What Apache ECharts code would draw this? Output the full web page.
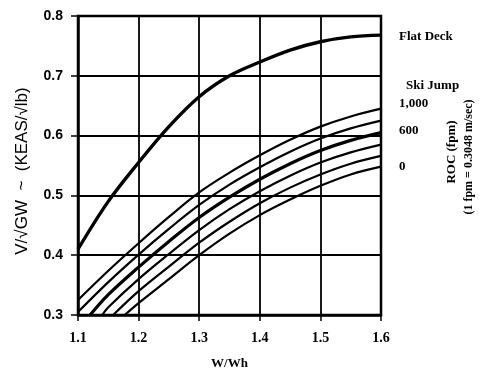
<!DOCTYPE html>
<html>
<head>
<meta charset="utf-8">
<script src="https://cdn.jsdelivr.net/npm/echarts@6/dist/echarts.min.js"></script>
<style>
html,body{margin:0;padding:0;background:#fff;}
#c{width:479px;height:369px;}
</style>
</head>
<body>
<div id="c"></div>
<script>
// Tick values
const xTicks = [1.1, 1.2, 1.3, 1.4, 1.5, 1.6];
const yTicks = [0.3, 0.4, 0.5, 0.6, 0.7, 0.8];

// Flat deck curve [W/Wh, V/sqrt(GW)]
const flatDeck = [[1.1,0.41],[1.15,0.49],[1.2,0.555],[1.25,0.615],[1.3,0.665],[1.35,0.70],[1.4,0.723],[1.45,0.743],[1.5,0.757],[1.55,0.765],[1.6,0.768]];

// Ski jump curves by rate of climb (fpm)
const ski1000 = [[1.1,0.325],[1.15,0.374],[1.2,0.42],[1.25,0.464],[1.3,0.505],[1.35,0.538],[1.4,0.567],[1.45,0.593],[1.5,0.615],[1.55,0.632],[1.6,0.645]];
const ski800  = [[1.1,0.305],[1.15,0.355],[1.2,0.401],[1.25,0.444],[1.3,0.484],[1.35,0.518],[1.4,0.547],[1.45,0.573],[1.5,0.595],[1.55,0.612],[1.6,0.625]];
const ski600  = [[1.12,0.3],[1.15,0.334],[1.2,0.38],[1.25,0.423],[1.3,0.463],[1.35,0.497],[1.4,0.527],[1.45,0.553],[1.5,0.575],[1.55,0.592],[1.6,0.605]];
const ski400  = [[1.14,0.3],[1.15,0.313],[1.2,0.36],[1.25,0.402],[1.3,0.442],[1.35,0.477],[1.4,0.507],[1.45,0.533],[1.5,0.555],[1.55,0.572],[1.6,0.585]];
const ski200  = [[1.158,0.3],[1.2,0.34],[1.25,0.381],[1.3,0.421],[1.35,0.456],[1.4,0.487],[1.45,0.513],[1.5,0.535],[1.55,0.553],[1.6,0.566]];
const ski0    = [[1.177,0.3],[1.2,0.32],[1.25,0.36],[1.3,0.40],[1.35,0.436],[1.4,0.467],[1.45,0.493],[1.5,0.516],[1.55,0.535],[1.6,0.548]];

const chart = echarts.init(document.getElementById('c'), null, {renderer:'canvas'});
const serif = '"Liberation Serif", "DejaVu Serif", serif';
const sans = '"Liberation Sans", Arial, sans-serif';

function line(name, data, w) {
  return {name, type:'line', data, smooth:0.35, symbol:'none', silent:true,
    lineStyle:{color:'#000', width:w}, z:5};
}

chart.setOption({
  animation:false,
  backgroundColor:'#fff',
  grid:{left:78, right:98, top:16, bottom:54, containLabel:false, outerBoundsMode:'none',
    show:true, borderColor:'#000', borderWidth:2.5, backgroundColor:'transparent'},
  xAxis:{type:'value', min:xTicks[0], max:xTicks[xTicks.length-1], interval:0.1,
    axisLine:{show:true, lineStyle:{color:'#000', width:2.5}},
    axisTick:{show:true, length:6, lineStyle:{color:'#000', width:1.5}},
    splitLine:{show:true, lineStyle:{color:'#000', width:1.8}},
    axisLabel:{color:'#000', fontFamily:serif, fontWeight:'bold', fontSize:14, margin:16,
      formatter:v=>Number(v).toFixed(1)},
    name:'W/Wh', nameLocation:'middle', nameGap:42,
    nameTextStyle:{color:'#000', fontFamily:serif, fontWeight:'bold', fontSize:13}
  },
  yAxis:{type:'value', min:yTicks[0], max:yTicks[yTicks.length-1], interval:0.1,
    axisLine:{show:true, lineStyle:{color:'#000', width:2.5}},
    axisTick:{show:true, length:7, lineStyle:{color:'#000', width:1.5}},
    splitLine:{show:true, lineStyle:{color:'#000', width:1.8}},
    axisLabel:{color:'#000', fontFamily:sans, fontWeight:'bold', fontSize:14, margin:15,
      formatter:v=>Number(v).toFixed(1)}
  },
  series:[
    line('Flat Deck', flatDeck, 3.4),
    line('1000', ski1000, 2.2),
    line('800', ski800, 2.2),
    line('600', ski600, 3.2),
    line('400', ski400, 2.2),
    line('200', ski200, 2.2),
    line('0', ski0, 2.2)
  ],
  graphic:[
    {type:'text', left:399, top:30, style:{text:'Flat Deck', font:'bold 13px '+serif, fill:'#000'}},
    {type:'text', left:406, top:79, style:{text:'Ski Jump', font:'bold 13px '+serif, fill:'#000'}},
    {type:'text', left:399, top:97, style:{text:'1,000', font:'bold 13px '+serif, fill:'#000'}},
    {type:'text', left:399, top:124, style:{text:'600', font:'bold 13px '+serif, fill:'#000'}},
    {type:'text', left:399, top:160, style:{text:'0', font:'bold 13px '+serif, fill:'#000'}},
    {type:'text', x:452, y:152, rotation:Math.PI/2,
      style:{text:'ROC (fpm)', font:'bold 13px '+serif, fill:'#000', align:'center', verticalAlign:'middle'}},
    {type:'text', x:469, y:157, rotation:Math.PI/2,
      style:{text:'(1 fpm = 0.3048 m/sec)', font:'bold 12px '+serif, fill:'#000', align:'center', verticalAlign:'middle'}},
    {type:'text', x:22, y:171, rotation:Math.PI/2,
      style:{text:'V/√GW  ~  (KEAS/√lb)', font:'17px '+sans, fill:'#000', align:'center', verticalAlign:'middle'}}
  ]
});
</script>
</body>
</html>
